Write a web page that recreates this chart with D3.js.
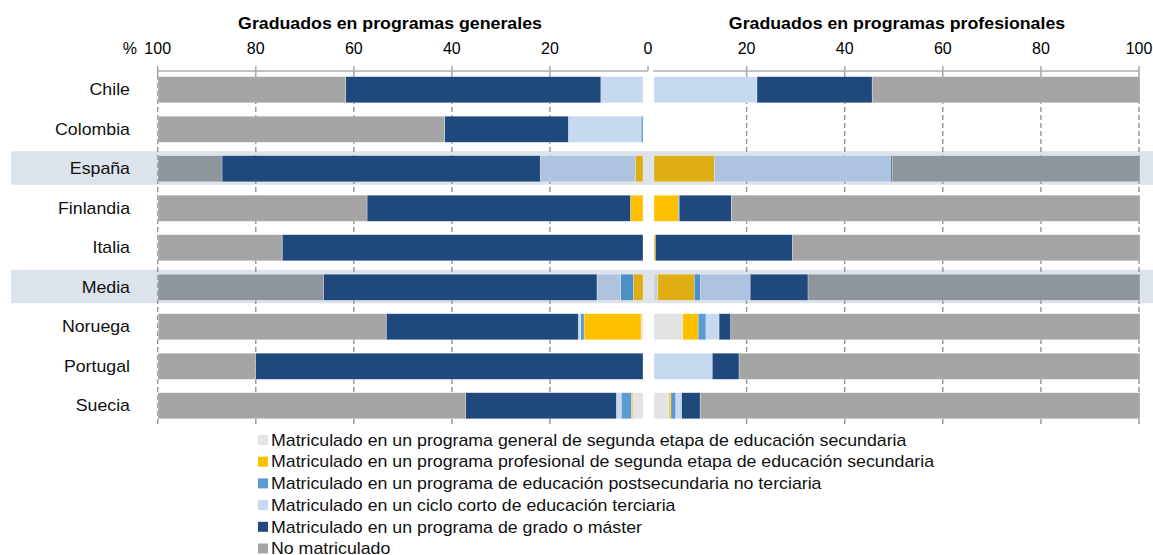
<!DOCTYPE html>
<html>
<head>
	<meta charset="utf-8"/>
	<title>Graduados</title>
	<script src="https://cdn.jsdelivr.net/npm/d3@7/dist/d3.min.js"></script>
	<style>
		body{ margin:0; background:#fff; }
		svg{ display:block; font-family:"Liberation Sans", Arial, sans-serif; }
	</style>
</head>
<body>
<script>
	// categorias (filas) y filas resaltadas
	var countries = ["Chile","Colombia","España","Finlandia","Italia","Media","Noruega","Portugal","Suecia"];
	var highlighted = ["España","Media"];

	// series: de dentro (0) hacia fuera (100)
	var keys = ["gen","voc","post","short","grado","no"];
	var legendLabels = [
		"Matriculado en un programa general de segunda etapa de educación secundaria",
		"Matriculado en un programa profesional de segunda etapa de educación secundaria",
		"Matriculado en un programa de educación postsecundaria no terciaria",
		"Matriculado en un ciclo corto de educación terciaria",
		"Matriculado en un programa de grado o máster",
		"No matriculado"
	];

	// graduados en programas generales (%)
	var genGen   = [0, 0, 0, 0, 0, 0, 0.4, 0, 2.1];
	var genVoc   = [0, 0, 1.6, 2.6, 0, 2.0, 11.75, 0, 0.3];
	var genPost  = [0, 0.4, 0, 0, 0, 2.6, 0.7, 0, 2.1];
	var genShort = [8.7, 15.0, 19.6, 0, 0, 4.9, 0.5, 0, 1.0];
	var genGrado = [52.6, 25.5, 65.6, 54.3, 74.4, 56.4, 39.6, 79.9, 31.1];
	var genNo    = [38.7, 59.1, 13.2, 43.1, 25.6, 34.1, 47.0, 20.1, 63.4];

	// graduados en programas profesionales (%), Colombia sin dato
	var proGen   = [0, 0, 0, 0, 0, 0.8, 5.9, 0, 3.1];
	var proVoc   = [0, 0, 12.4, 5.0, 0.3, 7.5, 3.2, 0, 0.4];
	var proPost  = [0, 0, 0, 0.2, 0, 1.3, 1.6, 0, 1.0];
	var proShort = [21.2, 0, 36.4, 0, 0, 10.2, 2.7, 12.0, 1.2];
	var proGrado = [23.7, 0, 0.3, 10.7, 28.2, 11.9, 2.4, 5.5, 3.8];
	var proNo    = [55.1, 0, 50.9, 84.1, 71.5, 68.3, 84.2, 82.5, 90.5];

	var tickValues = [0,20,40,60,80,100];

	var colors = {gen:"#E3E3E3", voc:"#FFC000", post:"#5B9BD5", short:"#C6D9F0", grado:"#1F497D", no:"#A5A5A5"};
	var colorsHi = {gen:"#C9CED4", voc:"#DEAE12", post:"#4F8FC8", short:"#ADC3DF", grado:"#1F497D", no:"#8E959D"};

	function rows(a,b,c,d,e,f){
		return countries.map(function(name,i){
			return {country:name, gen:a[i], voc:b[i], post:c[i], short:d[i], grado:e[i], no:f[i]};
		});
	}
	var genRows = rows(genGen,genVoc,genPost,genShort,genGrado,genNo);
	var proRows = rows(proGen,proVoc,proPost,proShort,proGrado,proNo);

	var W = 1153, H = 555;
	var SX = 1.11; // el texto del original es algo mas ancho
	var svg = d3.select("body").append("svg").attr("width",W).attr("height",H);

	var y = d3.scaleBand().domain(countries).range([70,425.5]).paddingInner(0.34).paddingOuter(0.17);

	// escalas de barras y de ejes
	var xGen = d3.scaleLinear().domain([0,100]).range([643,158]);
	var xPro = d3.scaleLinear().domain([0,100]).range([654,1140]);
	var aGen = d3.scaleLinear().domain([0,100]).range([648,157.7]);
	var aPro = d3.scaleLinear().domain([0,100]).range([648.5,1139]);

	var axisY = 71;
	var posTicks = tickValues.filter(function(t){return t>0;});

	// bandas resaltadas
	svg.selectAll("rect.band").data(highlighted)
		.enter().append("rect")
		.attr("class","band")
		.attr("x",11)
		.attr("y",function(d){return y(d)+y.bandwidth()/2-17.5;})
		.attr("width",W-11)
		.attr("height",33.5)
		.attr("fill","#DCE3EB");

	// rejilla discontinua
	var grid = svg.append("g");
	[aGen,aPro].forEach(function(sc){
		grid.selectAll(null).data(posTicks).enter().append("line")
			.attr("x1",function(d){return sc(d);})
			.attr("x2",function(d){return sc(d);})
			.attr("y1",axisY+4)
			.attr("y2",426)
			.attr("stroke","#9A9A9A")
			.attr("stroke-width",1.5)
			.attr("stroke-dasharray","5,3");
	});

	// ejes superiores
	var ax = svg.append("g").attr("stroke","#ADADAD").attr("stroke-width",1.6);
	ax.append("line").attr("x1",aGen(100)).attr("x2",aGen(0)).attr("y1",axisY).attr("y2",axisY);
	ax.append("line").attr("x1",aGen(0)).attr("x2",aGen(0)).attr("y1",axisY).attr("y2",axisY-5);
	ax.append("line").attr("x1",xPro(0)-1).attr("x2",aPro(100)).attr("y1",axisY).attr("y2",axisY);
	[aGen,aPro].forEach(function(sc){
		ax.selectAll(null).data(posTicks).enter().append("line")
			.attr("x1",function(d){return sc(d);}).attr("x2",function(d){return sc(d);})
			.attr("y1",axisY-5).attr("y2",axisY+4);
	});

	// etiquetas de ejes
	var lab = svg.append("g").attr("font-size",16).attr("fill","#000").attr("text-anchor","middle");
	lab.selectAll(null).data(tickValues).enter().append("text")
		.attr("x",function(d){return aGen(d);}).attr("y",54)
		.text(function(d){return d;});
	lab.selectAll(null).data(posTicks).enter().append("text")
		.attr("x",function(d){return aPro(d);}).attr("y",54)
		.text(function(d){return d;});
	lab.append("text").attr("x",137).attr("y",54).attr("text-anchor","end").text("%");

	// titulos
	function wideText(x,yy,anchor){
		return svg.append("g").attr("transform","translate("+x+","+yy+") scale("+SX+",1)")
			.append("text").attr("text-anchor",anchor).attr("font-size",16);
	}
	wideText(390,29,"middle").attr("font-weight","bold").text("Graduados en programas generales");
	wideText(897,29,"middle").attr("font-weight","bold").text("Graduados en programas profesionales");

	// paises
	svg.append("g").selectAll("g").data(countries).enter().append("g")
		.attr("transform",function(d){return "translate(130,"+(y(d)+y.bandwidth()/2)+") scale("+SX+",1)";})
		.append("text")
		.attr("dy","0.35em")
		.attr("text-anchor","end")
		.attr("font-size",16)
		.attr("fill","#111")
		.text(function(d){return d;});

	// barras apiladas
	var stack = d3.stack().keys(keys);
	function drawBars(data,x){
		var layers = svg.append("g").selectAll("g").data(stack(data)).enter().append("g");
		layers.selectAll("rect").data(function(s){ return s.map(function(v){ return {key:s.key, v:v}; }); })
			.enter().append("rect")
			.filter(function(d){return d.v[1]-d.v[0]>0;})
			.attr("x",function(d){return Math.min(x(d.v[0]),x(d.v[1]));})
			.attr("width",function(d){return Math.abs(x(d.v[1])-x(d.v[0]));})
			.attr("y",function(d){return y(d.v.data.country);})
			.attr("height",y.bandwidth())
			.attr("fill",function(d){
				return highlighted.indexOf(d.v.data.country)>=0 ? colorsHi[d.key] : colors[d.key];
			})
			.attr("stroke","#fff")
			.attr("stroke-opacity",0.45)
			.attr("stroke-width",0.6);
	}
	drawBars(genRows,xGen);
	drawBars(proRows,xPro);

	// leyenda
	var leg = svg.append("g").selectAll("g").data(keys).enter().append("g")
		.attr("transform",function(d,i){return "translate(258,"+(440+i*21.7)+")";});
	leg.append("rect").attr("x",0).attr("y",-5).attr("width",10).attr("height",10)
		.attr("fill",function(d){return colors[d];});
	leg.append("g").attr("transform","translate(13,0) scale("+SX+",1)")
		.append("text").attr("dy","0.36em").attr("font-size",16).attr("fill","#111")
		.text(function(d,i){return legendLabels[i];});
</script>
</body>
</html>
